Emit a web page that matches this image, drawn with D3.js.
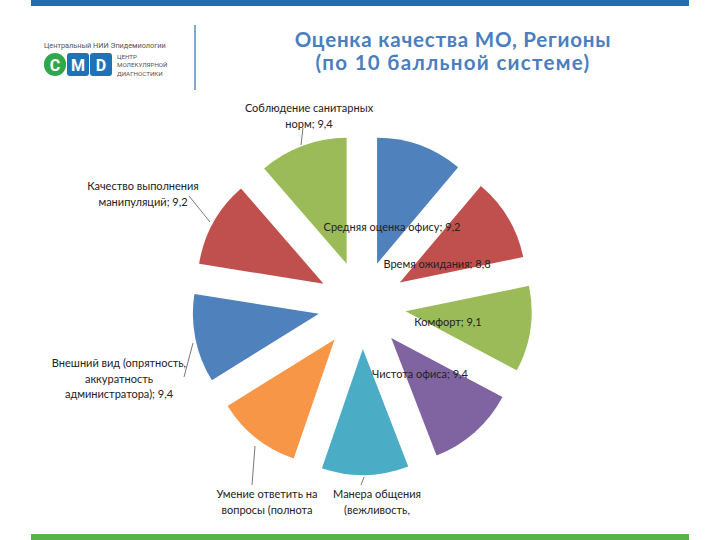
<!DOCTYPE html>
<html><head><meta charset="utf-8">
<script src="https://cdn.jsdelivr.net/npm/d3@7"></script>
<style>body{margin:0;background:#fff}svg{display:block}</style>
</head><body><svg id="c" width="720" height="540"></svg>
<script>
// ---- data ----
const categories = [
  "Средняя оценка офису",
  "Время ожидания",
  "Комфорт",
  "Чистота офиса",
  "Манера общения (вежливость, доброжелательность)",
  "Умение ответить на вопросы (полнота информации)",
  "Внешний вид (опрятность, аккуратность администратора)",
  "Качество выполнения манипуляций",
  "Соблюдение санитарных норм"
];
const values = [9.2, 8.8, 9.1, 9.4, 9.2, 9.0, 9.4, 9.2, 9.4];
const labelLines = [
  ["Средняя оценка офису; 9,2"],
  ["Время ожидания; 8,8"],
  ["Комфорт; 9,1"],
  ["Чистота офиса; 9,4"],
  ["Манера общения", "(вежливость,", "доброжелательность); 9,2"],
  ["Умение ответить на", "вопросы (полнота", "информации); 9,0"],
  ["Внешний вид (опрятность,", "аккуратность", "администратора); 9,4"],
  ["Качество выполнения", "манипуляций; 9,2"],
  ["Соблюдение санитарных", "норм; 9,4"]
];
const colors = ["#4F81BD","#C0504D","#9BBB59","#8064A2","#4BACC6","#F79646","#4F81BD","#C0504D","#9BBB59"];
const titleLines = ["Оценка качества МО, Регионы", "(по 10 балльной системе)"];

// ---- layout ----
const svg = d3.select("#c");
const cx = 362, cy = 305, R = 126, explode = 44;

// header bars
svg.append("rect").attr("x",31).attr("y",0).attr("width",658).attr("height",6).attr("fill","#1F6DB3");
svg.append("rect").attr("x",31).attr("y",534).attr("width",658).attr("height",6).attr("fill","#56B447");
svg.append("line").attr("x1",195).attr("x2",195).attr("y1",25).attr("y2",90).attr("stroke","#4F8CC3").attr("stroke-width",1.5);

// logo
const logo = svg.append("g");
logo.append("text").attr("x",44).attr("y",48).attr("font-family","Roboto, sans-serif").attr("font-size",7.3).attr("fill","#555").text("Центральный НИИ Эпидемиологии");
const boxes = [{t:"C",c:"#2EA84A",x:44},{t:"M",c:"#1E73B8",x:67},{t:"D",c:"#1E73B8",x:90}];
boxes.forEach(b=>{
  logo.append("rect").attr("x",b.x).attr("y",53).attr("width",22).attr("height",23).attr("rx",b.t==="C"?11:3).attr("fill",b.c);
  logo.append("text").attr("x",b.x+11).attr("y",70.5).attr("text-anchor","middle").attr("font-family","Roboto, sans-serif").attr("font-weight","bold").attr("font-size",16).attr("fill","#fff").text(b.t);
});
["ЦЕНТР","МОЛЕКУЛЯРНОЙ","ДИАГНОСТИКИ"].forEach((t,i)=>{
  logo.append("text").attr("x",117).attr("y",59+i*8.3).attr("font-family","Roboto, sans-serif").attr("font-size",6.2).attr("fill","#555").text(t);
});

// title
svg.append("g").selectAll("text").data(titleLines).join("text")
  .attr("x",453).attr("y",(d,i)=>47+i*23).attr("text-anchor","middle")
  .attr("font-family","Lato, sans-serif").attr("font-weight","bold").attr("font-size",20.5)
  .attr("letter-spacing",(d,i)=>i===0?0.8:1.3)
  .attr("fill","#4A7EBE").text(d=>d);

// pie
const pie = d3.pie().sort(null).value(d=>d);
const arcs = pie(values);
const arc = d3.arc().innerRadius(0).outerRadius(R);
const g = svg.append("g").attr("transform",`translate(${cx},${cy})`);
g.selectAll("path").data(arcs).join("path")
  .attr("transform",d=>{const m=(d.startAngle+d.endAngle)/2;return `translate(${explode*Math.sin(m)},${-explode*Math.cos(m)})`;})
  .attr("d",arc).attr("fill",(d,i)=>colors[i]);

// labels
svg.append("defs").append("clipPath").attr("id","clipL").append("rect").attr("x",0).attr("y",0).attr("width",720).attr("height",519);
const labelPos = [
  {x:392,y:231,a:"middle"},
  {x:437,y:268,a:"middle"},
  {x:448,y:326,a:"middle"},
  {x:420,y:378,a:"middle"},
  {x:377,y:498,a:"middle"},
  {x:267,y:498,a:"middle"},
  {x:119,y:367,a:"middle"},
  {x:143,y:190,a:"middle"},
  {x:309,y:112,a:"middle"}
];
const lg = svg.append("g").attr("clip-path","url(#clipL)");
labelLines.forEach((lines,i)=>{
  const p = labelPos[i];
  const t = lg.append("text").attr("text-anchor",p.a).attr("font-family","Lato, sans-serif").attr("font-size",11).attr("fill","#222");
  lines.forEach((l,j)=>t.append("tspan").attr("x",p.x).attr("y",p.y+j*15.5).text(l));
});
// leader lines
const leaders = [[[303,128],[301,145]],[[189,196],[210,222]],[[193,343],[184,377]],[[255,446],[252,485]],[[364,477],[361,485]]];
svg.append("g").selectAll("path").data(leaders).join("path")
  .attr("d",d=>d3.line()(d)).attr("stroke","#555").attr("stroke-width",0.8).attr("fill","none");
</script></body></html>
